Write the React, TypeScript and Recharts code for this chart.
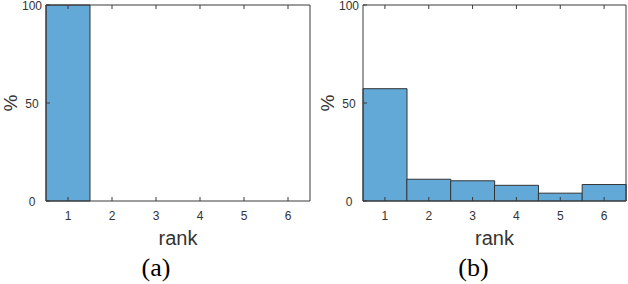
import React from 'react';
import { BarChart, Bar, XAxis, YAxis, Label } from 'recharts';

const ranks = ['1', '2', '3', '4', '5', '6'];
const shareA = [100, 0, 0, 0, 0, 0];
const shareB = [57.3, 11.1, 10.3, 8.0, 4.0, 8.4];
const yTicks = [0, 50, 100];
const captions = ['(a)', '(b)'];

const AXIS = '#3a3a3a';
const TEXT = '#333333';
const FILL = '#63a9d8';
const SANS = '"Liberation Sans", Arial, Helvetica, sans-serif';

const BottomTick = (props: any) => {
  const { x, y, payload } = props;
  return (
    <g>
      <line x1={x} x2={x} y1={y} y2={y - 4} stroke={AXIS} strokeWidth={1} />
      <text x={x} y={y + 19} textAnchor="middle" fontSize={12} fontFamily={SANS} fill={TEXT}>
        {payload.value}
      </text>
    </g>
  );
};

const TopTick = (props: any) => {
  const { x, y } = props;
  return <line x1={x} x2={x} y1={y} y2={y + 4} stroke={AXIS} strokeWidth={1} />;
};

const LeftTick = (props: any) => {
  const { x, y, payload } = props;
  return (
    <g>
      <line x1={x} x2={x + 4} y1={y} y2={y} stroke={AXIS} strokeWidth={1} />
      <text x={x - 14} y={y + 4.5} textAnchor="middle" fontSize={12} fontFamily={SANS} fill={TEXT}>
        {payload.value}
      </text>
    </g>
  );
};

const RightTick = (props: any) => {
  const { x, y } = props;
  return <line x1={x} x2={x - 4} y1={y} y2={y} stroke={AXIS} strokeWidth={1} />;
};

function Panel({ values, caption, left, right, captionDx }: { values: number[]; caption: string; left: number; right: number; captionDx: number }) {
  const data = ranks.map((r, i) => ({ rank: r, value: values[i] }));
  return (
    <div style={{ position: 'absolute', left, top: 0, width: 320, height: 284 }}>
      <BarChart
        width={320}
        height={284}
        data={data}
        margin={{ top: 4, right: right - 1, bottom: 82, left: 45 }}
        barCategoryGap={0}
        style={{ overflow: 'visible' }}
      >
        <Bar dataKey="value" fill={FILL} stroke="#333" strokeWidth={1} isAnimationActive={false} />
        <XAxis
          dataKey="rank"
          height={1}
          tickSize={0}
          tickMargin={0}
          interval={0}
          stroke={AXIS}
          tickLine={false}
          tick={<BottomTick />}
          label={
            <Label
              content={(p: any) => {
                const vb = p.viewBox || {};
                const cx = vb.x + vb.width / 2;
                return (
                  <g>
                    <text x={cx} y={245} textAnchor="middle" fontSize={20} fontFamily={SANS} fill={TEXT}>
                      rank
                    </text>
                    <text x={cx + captionDx} y={276} textAnchor="middle" fontSize={26} fontFamily='"Liberation Serif", "Times New Roman", serif' fill="#000">
                      {caption}
                    </text>
                  </g>
                );
              }}
            />
          }
        />
        <XAxis
          xAxisId="top"
          orientation="top"
          dataKey="rank"
          height={1}
          tickSize={0}
          tickMargin={0}
          interval={0}
          stroke={AXIS}
          tickLine={false}
          tick={<TopTick />}
        />
        <YAxis
          type="number"
          domain={[0, 100]}
          ticks={yTicks}
          width={1}
          tickSize={0}
          tickMargin={0}
          interval={0}
          stroke={AXIS}
          tickLine={false}
          tick={<LeftTick />}
          label={
            <Label
              content={(p: any) => {
                const vb = p.viewBox || {};
                const cy = vb.y + vb.height / 2;
                const lx = vb.x + vb.width - 36;
                return (
                  <text
                    x={lx}
                    y={cy}
                    transform={`rotate(-90, ${lx}, ${cy})`}
                    textAnchor="middle"
                    dominantBaseline="central"
                    fontSize={19}
                    fontFamily={SANS}
                    fill={TEXT}
                  >
                    %
                  </text>
                );
              }}
            />
          }
        />
        <YAxis
          yAxisId="right"
          orientation="right"
          type="number"
          domain={[0, 100]}
          ticks={yTicks}
          width={1}
          tickSize={0}
          tickMargin={0}
          interval={0}
          stroke={AXIS}
          tickLine={false}
          tick={<RightTick />}
        />
      </BarChart>
    </div>
  );
}

export default function App() {
  return (
    <div style={{ position: 'absolute', left: 0, top: 0, width: 628, height: 284, background: '#fff' }}>
      <Panel values={shareA} caption={captions[0]} left={0} right={10} captionDx={-22} />
      <Panel values={shareB} caption={captions[1]} left={317} right={11} captionDx={-21} />
    </div>
  );
}
